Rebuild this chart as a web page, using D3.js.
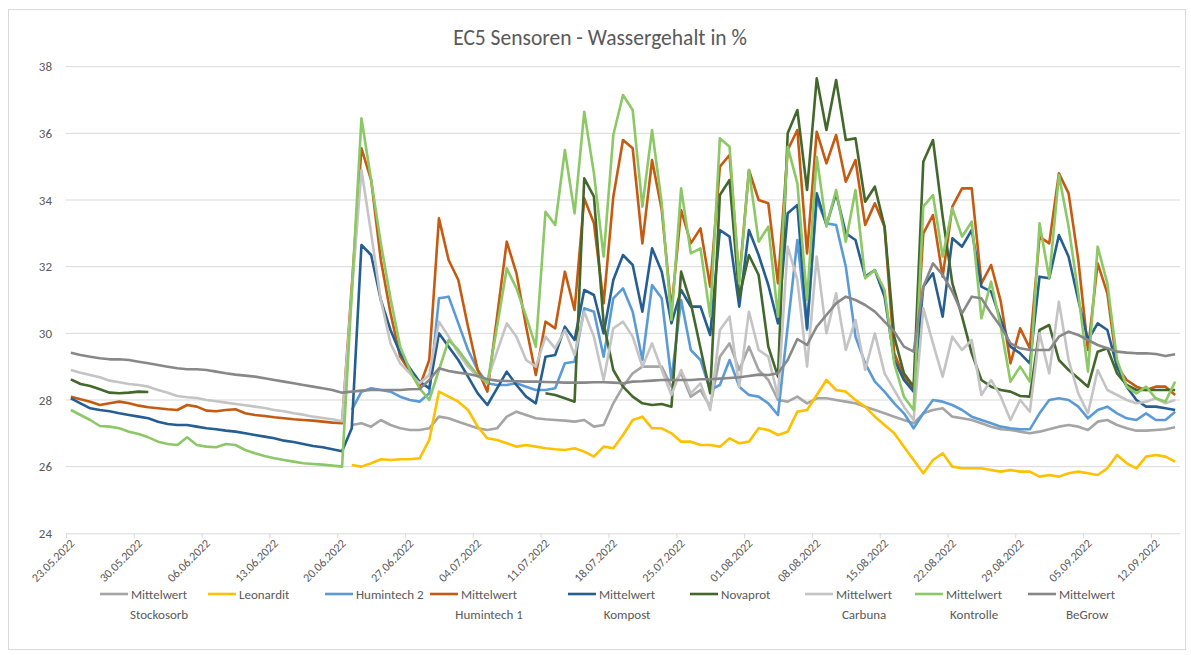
<!DOCTYPE html>
<html>
<head>
<meta charset="utf-8">
<script src="https://cdn.jsdelivr.net/npm/d3@7"></script>
<style>
  body { margin: 0; background: #fff; }
  svg text { font-family: Carlito, "Liberation Sans Narrow", "Liberation Sans", Roboto, sans-serif; fill: #595959; }
</style>
</head>
<body>
<div id="chart"></div>
<script>
// Daily readings 23.05.2022 - 14.09.2022 (115 days), null = no value
var startDate = new Date(2022, 4, 23);
var dayCount = 115;
var yTicks = [24, 26, 28, 30, 32, 34, 36, 38];

var stockosorb = [
  null,null,null,null,null,null,null,null,null,null,null,null,null,null,null,null,null,null,null,null,null,null,null,null,null,null,null,null,null,
  27.25,27.3,27.2,27.4,27.25,27.15,27.1,27.1,27.15,27.5,27.45,27.35,27.25,27.15,27.1,
  27.15,27.5,27.65,27.55,27.45,27.42,27.4,27.38,27.35,27.4,27.2,27.25,27.9,28.4,
  28.8,29.0,29.0,29.0,28.4,28.8,28.1,28.3,27.8,29.3,29.7,28.9,29.6,28.9,
  28.6,28.0,27.95,28.1,27.9,28.05,28.05,28.0,27.95,27.9,27.8,27.7,27.6,27.5,27.4,27.3,
  27.6,27.7,27.75,27.5,27.45,27.4,27.3,27.2,27.12,27.1,27.05,27.0,27.05,
  27.12,27.2,27.25,27.2,27.1,27.35,27.4,27.25,27.15,27.08,27.08,27.1,27.12,27.18
];
var leonardit = [
  null,null,null,null,null,null,null,null,null,null,null,null,null,null,null,null,null,null,null,null,null,null,null,null,null,null,null,null,null,
  26.05,26.0,26.1,26.22,26.2,26.22,26.22,26.25,26.8,28.25,28.1,27.95,27.7,27.2,26.85,
  26.8,26.7,26.6,26.65,26.6,26.55,26.52,26.5,26.55,26.45,26.3,26.6,26.55,26.95,
  27.4,27.5,27.15,27.15,27.0,26.75,26.75,26.65,26.65,26.6,26.85,26.7,26.75,27.15,
  27.1,26.95,27.05,27.65,27.7,28.15,28.6,28.3,28.25,28.0,27.8,27.5,27.25,27.0,26.6,26.2,
  25.8,26.2,26.4,26.0,25.95,25.95,25.95,25.9,25.85,25.9,25.85,25.85,25.7,
  25.75,25.7,25.8,25.85,25.8,25.75,25.95,26.35,26.1,25.95,26.3,26.35,26.3,26.15
];
var humintech2 = [
  null,null,null,null,null,null,null,null,null,null,null,null,null,null,null,null,null,null,null,null,null,null,null,null,null,null,null,null,null,
  27.7,28.25,28.35,28.3,28.25,28.1,28.0,27.95,28.2,31.05,31.1,30.3,29.5,28.9,28.5,
  28.45,28.45,28.5,28.4,28.3,28.3,28.35,29.1,29.15,30.75,30.65,29.3,31.05,31.35,
  30.65,29.2,31.45,31.05,28.6,31.0,29.5,29.2,28.3,28.45,29.2,28.4,28.15,28.1,
  27.9,27.55,30.2,32.8,30.1,34.0,33.3,33.25,32.0,29.9,29.1,28.55,28.25,27.9,27.6,27.15,
  27.6,28.0,27.95,27.85,27.7,27.5,27.4,27.3,27.2,27.15,27.12,27.12,27.6,
  28.0,28.05,28.0,27.8,27.45,27.7,27.8,27.6,27.45,27.4,27.6,27.4,27.4,27.65
];
var humintech1 = [
  28.1,28.02,27.95,27.85,27.9,27.95,27.9,27.83,27.78,27.75,27.72,27.7,27.85,27.8,27.68,27.66,27.7,27.72,27.6,27.55,27.52,27.48,27.45,27.42,27.4,27.38,27.35,27.32,27.3,
  31.4,35.55,34.6,32.2,30.6,29.3,28.85,28.4,29.2,33.45,32.2,31.6,30.2,28.9,28.25,
  30.5,32.75,31.8,30.2,28.75,30.35,30.15,31.85,30.7,34.05,33.3,30.9,34.1,35.8,
  35.55,32.7,35.2,33.7,30.7,33.7,32.7,33.15,31.4,35.0,35.35,31.6,34.9,34.0,
  33.9,31.5,35.5,36.1,32.4,36.05,35.1,35.95,34.55,35.2,33.25,33.9,33.2,29.4,28.7,28.3,
  33.0,33.55,31.7,33.8,34.35,34.35,31.5,32.05,30.95,29.1,30.15,29.55,32.9,
  32.7,34.8,34.2,32.2,29.5,32.1,31.2,29.0,28.6,28.4,28.3,28.4,28.4,28.15
];
var kompost = [
  28.05,27.9,27.75,27.7,27.66,27.6,27.55,27.5,27.45,27.35,27.28,27.25,27.25,27.2,27.15,27.12,27.08,27.05,27.0,26.95,26.9,26.85,26.78,26.74,26.68,26.62,26.58,26.52,26.46,
  27.15,32.65,32.35,31.0,30.1,29.4,28.95,28.55,28.35,30.0,29.6,29.2,28.7,28.2,27.85,
  28.35,28.85,28.45,28.1,27.9,29.3,29.35,30.2,29.8,31.3,31.15,30.0,31.6,32.35,
  32.05,30.65,32.55,31.85,30.3,31.3,30.8,30.8,29.95,33.1,32.9,30.8,33.1,32.35,
  31.45,30.3,33.6,33.85,30.15,34.2,33.25,34.2,33.0,32.8,31.7,31.9,31.1,29.2,28.6,28.25,
  31.4,31.8,30.5,32.85,32.6,33.1,31.4,31.25,30.4,29.6,29.4,29.1,31.7,
  31.65,32.95,32.3,31.0,29.8,30.3,30.1,29.0,28.4,28.0,27.8,27.8,27.75,27.7
];
var novaprot = [
  28.62,28.48,28.42,28.32,28.22,28.2,28.22,28.25,28.24,
  null,null,null,null,null,null,null,null,null,null,null,null,null,null,null,null,null,null,null,null,
  null,null,null,null,null,null,null,null,null,null,null,null,null,null,null,null,null,null,null,null,
  28.2,28.15,28.05,27.95,34.65,34.1,30.3,28.9,28.4,
  28.1,27.9,27.85,27.88,27.8,31.85,30.9,29.55,28.2,34.15,34.6,31.1,32.35,31.75,
  29.6,28.7,36.0,36.7,34.3,37.65,36.1,37.6,35.8,35.85,33.95,34.4,33.2,29.9,28.8,28.4,
  35.15,35.8,33.5,31.5,30.5,29.4,28.6,28.4,28.3,28.25,28.12,28.1,30.1,
  30.25,29.2,28.9,28.65,28.4,29.45,29.55,28.8,28.45,28.3,28.3,28.3,28.3,28.3
];
var carbuna = [
  28.9,28.82,28.75,28.68,28.58,28.53,28.48,28.45,28.4,28.3,28.22,28.12,28.08,28.06,28.0,27.96,27.92,27.88,27.84,27.8,27.76,27.7,27.66,27.6,27.56,27.5,27.46,27.42,27.36,
  31.2,34.9,33.0,31.0,29.7,29.1,28.8,28.5,28.75,30.35,29.9,29.4,29.0,28.7,28.6,
  29.45,30.3,29.9,29.2,29.0,29.9,29.55,30.1,29.35,30.65,29.9,28.6,30.15,30.35,
  29.9,29.0,29.7,28.9,28.15,28.9,28.2,28.5,27.7,30.1,30.5,28.4,30.65,29.5,
  29.3,28.1,32.6,31.6,29.0,32.3,30.0,31.2,29.5,30.4,28.9,30.0,28.8,28.3,27.8,27.4,
  30.75,29.7,28.7,29.9,29.5,29.8,28.15,28.6,28.1,27.4,28.0,27.65,30.0,
  28.8,30.95,29.2,28.2,27.6,28.9,28.3,28.15,28.0,27.9,27.95,28.05,27.9,28.0
];
var kontrolle = [
  27.7,27.55,27.4,27.22,27.2,27.15,27.05,26.98,26.88,26.75,26.68,26.65,26.88,26.65,26.6,26.58,26.68,26.65,26.5,26.4,26.32,26.25,26.2,26.15,26.1,26.08,26.06,26.03,26.0,
  31.2,36.45,34.6,32.7,31.05,29.6,28.9,28.35,28.0,28.9,29.8,29.5,29.1,28.75,28.5,
  30.2,31.95,31.35,30.5,29.6,33.65,33.25,35.5,33.6,36.65,34.8,32.3,35.95,37.15,
  36.7,33.8,36.1,33.9,30.4,34.35,32.4,32.55,30.5,35.85,35.6,31.5,34.9,32.75,
  33.2,30.5,35.6,34.5,31.0,35.3,33.2,34.3,32.75,34.3,31.65,31.9,31.3,29.1,28.1,27.7,
  33.8,34.15,32.3,33.75,32.9,33.35,30.45,31.55,30.2,28.55,29.0,28.55,33.3,
  31.65,34.75,33.2,31.2,28.85,32.6,31.5,29.2,28.4,28.2,28.4,28.05,27.95,28.55
];
var begrow = [
  29.42,29.35,29.3,29.25,29.22,29.22,29.2,29.15,29.1,29.05,29.0,28.95,28.92,28.92,28.9,28.85,28.8,28.76,28.73,28.7,28.65,28.6,28.55,28.5,28.45,28.4,28.35,28.3,28.22,
  28.25,28.28,28.3,28.3,28.3,28.3,28.32,28.33,28.6,28.95,28.87,28.82,28.78,28.72,28.62,
  28.58,28.57,28.56,28.55,28.55,28.54,28.53,28.52,28.52,28.52,28.53,28.53,28.52,28.5,
  28.55,28.56,28.58,28.6,28.6,28.6,28.6,28.62,28.62,28.64,28.66,28.68,28.72,28.76,
  28.75,28.8,29.2,29.83,29.65,30.2,30.55,30.9,31.1,31.0,30.85,30.65,30.35,30.05,29.6,29.45,
  31.4,32.1,31.75,31.25,30.6,31.1,31.05,30.6,30.2,29.7,29.55,29.5,29.5,
  29.5,29.9,30.05,29.95,29.8,29.65,29.55,29.45,29.42,29.4,29.4,29.38,29.32,29.37
];

var seriesNames = ["Mittelwert Stockosorb", "Leonardit", "Humintech 2", "Mittelwert Humintech 1",
  "Mittelwert Kompost", "Novaprot", "Mittelwert Carbuna", "Mittelwert Kontrolle", "Mittelwert BeGrow"];
var seriesValues = [stockosorb, leonardit, humintech2, humintech1, kompost, novaprot, carbuna, kontrolle, begrow];
var seriesColors = ["#a5a5a5", "#ffc000", "#5b9bd5", "#c55a11", "#255e91", "#43682b", "#c4c4c4", "#8cc865", "#888888"];

// Layout
var width = 1191, height = 655;
var plot = {left: 66, right: 1180, top: 66.7, bottom: 533.3};

var svg = d3.select("#chart").append("svg")
    .attr("width", width)
    .attr("height", height);

svg.append("rect")
    .attr("x", 8.5).attr("y", 9.5)
    .attr("width", 1177).attr("height", 640)
    .attr("fill", "#fff")
    .attr("stroke", "#d9d9d9");

// Title
svg.append("text")
    .attr("x", 600)
    .attr("y", 45)
    .attr("text-anchor", "middle")
    .style("font-size", "21.5px")
    .text("EC5 Sensoren - Wassergehalt in %");

// Scales
var endDate = d3.timeDay.offset(startDate, dayCount);
var x = d3.scaleTime()
    .domain([startDate, endDate])
    .range([plot.left, plot.right]);

var y = d3.scaleLinear()
    .domain([24, 38])
    .range([plot.bottom, plot.top]);

var dates = d3.range(dayCount).map(function(i) { return d3.timeDay.offset(startDate, i); });
function xMid(d) { return x(d3.timeHour.offset(d, 12)); }

// Grid
svg.append("g")
    .selectAll("line")
    .data(yTicks.slice(1))
    .enter().append("line")
    .attr("x1", plot.left).attr("x2", plot.right)
    .attr("y1", function(d) { return y(d); })
    .attr("y2", function(d) { return y(d); })
    .attr("stroke", "#d9d9d9")
    .attr("stroke-width", 1);

// Y axis labels
var yAxis = d3.axisLeft(y).tickValues(yTicks).tickSize(0).tickPadding(14);
var yG = svg.append("g")
    .attr("transform", "translate(" + plot.left + ",0)")
    .call(yAxis);
yG.select(".domain").remove();
yG.selectAll("text").style("font-size", "13px").attr("fill", "#595959");

// X axis
var weekTicks = d3.range(0, dayCount, 7).map(function(i) { return d3.timeDay.offset(startDate, i); });
var xAxis = d3.axisBottom(x)
    .tickValues(weekTicks)
    .tickSize(5)
    .tickFormat(d3.timeFormat("%d.%m.%Y"));
var xG = svg.append("g")
    .attr("transform", "translate(0," + plot.bottom + ")")
    .call(xAxis);
xG.select(".domain").attr("stroke", "#d9d9d9").attr("d", "M" + plot.left + ",0.5H" + plot.right);
xG.selectAll(".tick line").attr("stroke", "#d9d9d9");
xG.selectAll("text")
    .style("font-size", "12px")
    .style("fill", "#595959")
    .attr("text-anchor", "end")
    .attr("dy", "0.35em")
    .attr("transform", "translate(3,5) rotate(-45)")
    .attr("x", 0).attr("y", 4);

// Lines
var line = d3.line()
    .defined(function(v) { return v != null; })
    .x(function(v, i) { return xMid(dates[i]); })
    .y(function(v) { return y(v); });

svg.append("g")
    .selectAll("path")
    .data(seriesValues)
    .enter().append("path")
    .attr("d", line)
    .attr("fill", "none")
    .attr("stroke", function(d, i) { return seriesColors[i]; })
    .attr("stroke-width", 2.6)
    .attr("stroke-linejoin", "round");

// Legend
var legendX = [100, 208, 325, 430, 568, 690, 805, 915, 1028];
var legend = svg.append("g").selectAll("g")
    .data(seriesNames)
    .enter().append("g")
    .attr("transform", function(d, i) { return "translate(" + legendX[i] + ",0)"; });

legend.append("line")
    .attr("x1", 0).attr("x2", 28)
    .attr("y1", 594).attr("y2", 594)
    .attr("stroke", function(d, i) { return seriesColors[i]; })
    .attr("stroke-width", 2.6);

legend.each(function(name) {
    var g = d3.select(this);
    var parts = name.indexOf("Mittelwert ") === 0 ? ["Mittelwert", name.slice(11)] : [name];
    var t = g.append("text")
        .attr("x", 31).attr("y", 598.5)
        .style("font-size", "13px")
        .text(parts[0]);
    if (parts.length > 1) {
        var w = t.node().getComputedTextLength();
        g.append("text")
            .attr("x", 31 + w / 2).attr("y", 618.5)
            .attr("text-anchor", "middle")
            .style("font-size", "13px")
            .text(parts[1]);
    }
});
</script>
</body>
</html>
